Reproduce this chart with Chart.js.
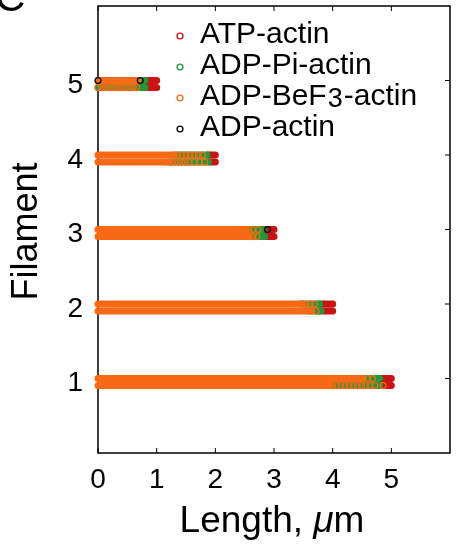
<!DOCTYPE html>
<html>
<head>
<meta charset="utf-8">
<script src="https://cdn.jsdelivr.net/npm/chart.js@4.4.0/dist/chart.umd.min.js"></script>
<style>
  html, body { margin: 0; padding: 0; background: #fff; }
  #wrap { width: 457px; height: 550px; position: relative; }
</style>
</head>
<body>
<div id="wrap"><canvas id="myChart"></canvas></div>
<script>
const stateLabels = ['ATP-actin', 'ADP-Pi-actin', 'ADP-BeF\u2083-actin', 'ADP-actin'];
const stateColors = ['#cc1212', '#1c9a3a', '#f76914', '#000000'];
const filamentTicks = [1, 2, 3, 4, 5];
const lengthTicks = [0, 1, 2, 3, 4, 5];

// solid runs of one state: [filament, strand (0 upper, 1 lower), from µm, to µm]
const atpBands = [
  [1, 0, 4.82, 5.0], [1, 1, 4.8, 5.0],
  [2, 0, 3.8, 4.0], [2, 1, 3.82, 4.0],
  [3, 0, 2.85, 3.0], [3, 1, 2.86, 3.0],
  [4, 0, 1.87, 2.0], [4, 1, 1.9, 2.0],
  [5, 0, 0.82, 1.0], [5, 1, 0.82, 1.0]
];
const piBands = [
  [1, 0, 4.45, 4.8], [1, 1, 3.9, 4.8],
  [2, 0, 3.45, 3.78], [2, 1, 3.6, 3.8],
  [3, 0, 2.5, 2.82], [3, 1, 2.55, 2.84],
  [4, 0, 1.3, 1.86], [4, 1, 1.2, 1.88],
  [5, 0, 0.68, 0.8], [5, 1, 0, 0.8]
];
const befBands = [
  [1, 0, 0, 4.5], [1, 1, 0, 3.95],
  [2, 0, 0, 3.5], [2, 1, 0, 3.65],
  [3, 0, 0, 2.52], [3, 1, 0, 2.58],
  [4, 0, 0, 1.3], [4, 1, 0, 1.2],
  [5, 0, 0, 0.68]
];

// single subunits that show up as separate rings: [filament, strand, x µm]
const befDots = [
  [1, 0, 4.52], [1, 0, 4.6], [1, 0, 4.68],
  [1, 1, 4.0], [1, 1, 4.07], [1, 1, 4.14], [1, 1, 4.21], [1, 1, 4.28], [1, 1, 4.35],
  [1, 1, 4.42], [1, 1, 4.49], [1, 1, 4.56], [1, 1, 4.64], [1, 1, 4.72], [1, 1, 4.86],
  [2, 0, 3.55], [2, 0, 3.62], [2, 0, 3.69], [2, 1, 3.72],
  [3, 0, 2.57], [3, 0, 2.64], [3, 0, 2.73], [3, 1, 2.64], [3, 1, 2.71],
  [4, 0, 1.36], [4, 0, 1.43], [4, 0, 1.5], [4, 0, 1.57], [4, 0, 1.64], [4, 0, 1.71], [4, 0, 1.78],
  [4, 1, 1.25], [4, 1, 1.31], [4, 1, 1.37], [4, 1, 1.43], [4, 1, 1.49], [4, 1, 1.55],
  [4, 1, 1.64], [4, 1, 1.73], [4, 1, 1.82],
  [5, 1, 0], [5, 1, 0.06], [5, 1, 0.12], [5, 1, 0.18], [5, 1, 0.24], [5, 1, 0.3],
  [5, 1, 0.36], [5, 1, 0.42], [5, 1, 0.48], [5, 1, 0.54], [5, 1, 0.6], [5, 1, 0.66]
];
const piDots = [[2, 1, 3.76], [2, 0, 3.75]];
const adpDots = [[5, 0, 0], [5, 0, 0.72], [3, 0, 2.89]];

// the lower strand sits just under the filament number
const strandDrop = 0.095;

function bandSets(bands, color, order) {
  return bands.map(([f, s, from, to]) => ({
    data: [{x: from, y: f - s * strandDrop}, {x: to, y: f - s * strandDrop}],
    showLine: true,
    borderColor: color,
    borderWidth: 7,
    borderCapStyle: 'round',
    pointRadius: 0,
    clip: false,
    order: order
  }));
}

function dotSet(dots, color, order) {
  return {
    data: dots.map(([f, s, x]) => ({x: x, y: f - s * strandDrop})),
    showLine: false,
    pointRadius: 2.9,
    pointBorderWidth: 1.3,
    pointBorderColor: color,
    pointBackgroundColor: 'rgba(0,0,0,0)',
    clip: false,
    order: order
  };
}

const datasets = [].concat(
  bandSets(atpBands, stateColors[0], 9),
  bandSets(piBands, stateColors[1], 8),
  bandSets(befBands, stateColors[2], 7),
  [dotSet(piDots, stateColors[1], 3), dotSet(befDots, stateColors[2], 2), dotSet(adpDots, stateColors[3], 1)]
);

const FONT = '"Liberation Sans", Arial, Helvetica, sans-serif';

// legend label with the BeF3 subscript drawn as a small lowered digit
function drawLabel(ctx, label, x, y) {
  const parts = label.split('\u2083');
  ctx.font = '30px ' + FONT;
  ctx.fillText(parts[0], x, y);
  if (parts.length < 2) return;
  x += ctx.measureText(parts[0]).width;
  ctx.font = '27px ' + FONT;
  ctx.fillText('3', x + 1, y + 2);
  x += ctx.measureText('3').width + 2;
  ctx.font = '30px ' + FONT;
  ctx.fillText(parts[1], x, y);
}

const frame = {
  id: 'frame',
  beforeDatasetsDraw(chart) {
    const {ctx, chartArea: a, scales: {x, y}} = chart;
    ctx.save();
    ctx.strokeStyle = '#000';
    ctx.lineWidth = 1.5;
    ctx.strokeRect(a.left, a.top, a.right - a.left, a.bottom - a.top);
    ctx.lineWidth = 1;
    ctx.beginPath();
    lengthTicks.forEach(v => {
      const px = x.getPixelForValue(v);
      ctx.moveTo(px, a.bottom); ctx.lineTo(px, a.bottom - 5);
      ctx.moveTo(px, a.top); ctx.lineTo(px, a.top + 5);
    });
    filamentTicks.forEach(v => {
      const py = y.getPixelForValue(v);
      ctx.moveTo(a.left, py); ctx.lineTo(a.left + 5, py);
      ctx.moveTo(a.right, py); ctx.lineTo(a.right - 5, py);
    });
    ctx.stroke();
    ctx.restore();
  },
  afterDraw(chart) {
    const {ctx, chartArea: a} = chart;
    ctx.save();
    ctx.fillStyle = '#000';
    // legend
    ctx.textBaseline = 'alphabetic';
    ctx.textAlign = 'left';
    stateLabels.forEach((label, i) => {
      const my = 36 + i * 31;
      ctx.beginPath();
      ctx.arc(180, my, 2.9, 0, Math.PI * 2);
      ctx.strokeStyle = stateColors[i];
      ctx.lineWidth = 1.4;
      ctx.stroke();
      drawLabel(ctx, label, 200, my + 7);
    });
    // x title
    const parts = [['Length, ', '37px ' + FONT], ['\u03bc', 'italic 37px ' + FONT], ['m', '37px ' + FONT]];
    let total = 0;
    parts.forEach(p => { ctx.font = p[1]; total += ctx.measureText(p[0]).width; });
    let tx = (a.left + a.right) / 2 - 2 - total / 2;
    parts.forEach(p => { ctx.font = p[1]; ctx.fillText(p[0], tx, 532); tx += ctx.measureText(p[0]).width; });
    // y title
    ctx.save();
    ctx.translate(37, (a.top + a.bottom) / 2 + 2);
    ctx.rotate(-Math.PI / 2);
    ctx.textAlign = 'center';
    ctx.font = '36px ' + FONT;
    ctx.fillText('Filament', 0, 0);
    ctx.restore();
    // panel letter, mostly cut off
    ctx.font = '42px ' + FONT;
    ctx.fillText('C', -5, 11);
    ctx.restore();
  }
};

new Chart(document.getElementById('myChart'), {
  type: 'scatter',
  data: {datasets: datasets},
  options: {
    responsive: true,
    maintainAspectRatio: false,
    animation: false,
    devicePixelRatio: 1,
    layout: {padding: {top: 6, right: 7, left: 0, bottom: 0}},
    plugins: {legend: {display: false}, tooltip: {enabled: false}},
    scales: {
      x: {
        type: 'linear', min: 0, max: 6,
        afterBuildTicks: s => { s.ticks = lengthTicks.map(v => ({value: v})); },
        afterFit: s => { s.height = 97; s.paddingLeft = 0; s.paddingRight = 0; },
        grid: {display: false, drawTicks: false},
        border: {display: false},
        ticks: {color: '#000', font: {family: FONT, size: 28}, padding: 10, maxRotation: 0}
      },
      y: {
        type: 'linear', min: 0, max: 6,
        afterBuildTicks: s => { s.ticks = filamentTicks.map(v => ({value: v})); },
        afterFit: s => { s.width = 98; s.paddingTop = 0; s.paddingBottom = 0; },
        grid: {display: false, drawTicks: false},
        border: {display: false},
        ticks: {color: '#000', font: {family: FONT, size: 28}, padding: 15, labelOffset: 5}
      }
    }
  },
  plugins: [frame]
});
</script>
</body>
</html>
